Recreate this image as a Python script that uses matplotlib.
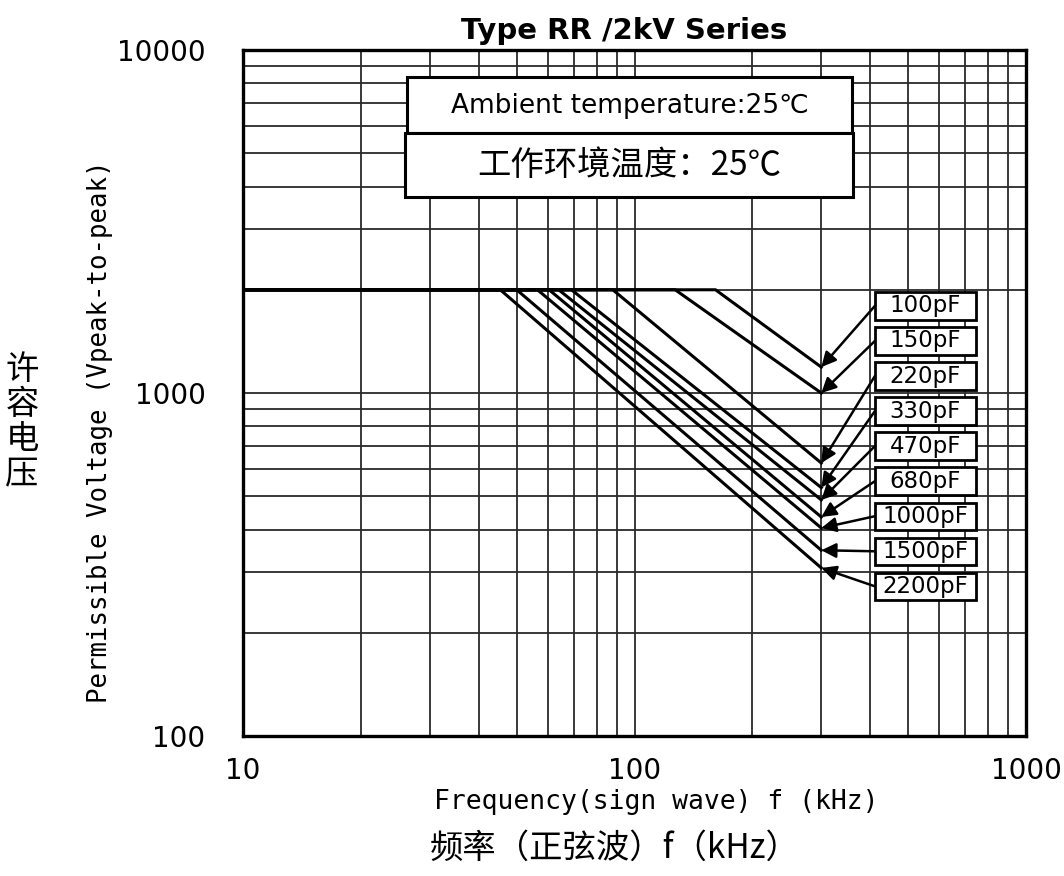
import matplotlib
matplotlib.use("Agg")

import matplotlib.pyplot as plt
from matplotlib import font_manager
from matplotlib.patches import Rectangle
from matplotlib.ticker import NullFormatter


# Data
capacitances = ["100pF", "150pF", "220pF", "330pF", "470pF",
                "680pF", "1000pF", "1500pF", "2200pF"]
v_max = 2000                      # flat limit (Vp-p)
f_start = 10                      # kHz
f_knee = [161, 127, 88, 69, 64, 60.5, 56.5, 50, 45.4]   # kHz where the limit starts to fall
f_end = 300                       # kHz
v_end = [1190, 1000, 625, 530, 488, 435, 404, 348, 309] # Vp-p at 300 kHz

x_ticks = [10, 100, 1000]
y_ticks = [100, 1000, 10000]

# Fonts
installed = {f.name for f in font_manager.fontManager.ttflist}
narrow = "Liberation Sans Narrow" if "Liberation Sans Narrow" in installed else "DejaVu Sans"
cjk = "Noto Sans CJK SC"
mono = "DejaVu Sans Mono"

fig = plt.figure(figsize=(10.64, 8.76), dpi=100)
ax = fig.add_axes([0.2284, 0.1598, 0.7359, 0.7831])

ax.set_xscale("log")
ax.set_yscale("log")
ax.set_xlim(10, 1000)
ax.set_ylim(100, 10000)

ax.grid(True, which="both", color="#2a2a2a", linewidth=1.3, zorder=1)
ax.set_axisbelow(True)

for s in ax.spines.values():
    s.set_linewidth(2.4)
    s.set_color("black")
    s.set_zorder(5)

ax.set_xticks(x_ticks)
ax.set_xticklabels([str(v) for v in x_ticks])
ax.set_yticks(y_ticks)
ax.set_yticklabels([str(v) for v in y_ticks])
ax.xaxis.set_minor_formatter(NullFormatter())
ax.yaxis.set_minor_formatter(NullFormatter())

tick_size = 23 if narrow != "DejaVu Sans" else 20
ax.tick_params(which="both", length=0)
ax.tick_params(axis="x", pad=15, labelsize=tick_size)
ax.tick_params(axis="y", pad=27, labelsize=tick_size)
for lab in ax.get_xticklabels() + ax.get_yticklabels():
    lab.set_family(narrow)

# Curves
for i in range(len(capacitances)):
    ax.plot([f_start, f_knee[i], f_end], [v_max, v_max, v_end[i]],
            color="black", linewidth=2.2, zorder=3, solid_joinstyle="miter")

# Label boxes with arrows
box_x = 0.807
box_w = 0.129
box_h = 0.040
y0 = 0.627
dy = 0.0511
for i, cap in enumerate(capacitances):
    yc = y0 - i * dy
    ax.add_patch(Rectangle((box_x, yc - box_h / 2), box_w, box_h,
                           transform=ax.transAxes, facecolor="white",
                           edgecolor="black", linewidth=2, zorder=6,
                           clip_on=False))
    ax.text(box_x + box_w / 2, yc, cap, transform=ax.transAxes,
            ha="center", va="center", fontsize=16.5, family=narrow, zorder=7)
    ax.annotate("", xy=(f_end, v_end[i]), xycoords="data",
                xytext=(box_x, yc), textcoords="axes fraction",
                arrowprops=dict(arrowstyle="-|>", color="black", lw=1.8,
                                mutation_scale=22, shrinkA=0, shrinkB=0),
                zorder=4)

# Temperature boxes
ax.add_patch(Rectangle((0.2095, 0.879), 0.5685, 0.0816, transform=ax.transAxes,
                       facecolor="white", edgecolor="black", linewidth=2.2,
                       zorder=6))
ax.text(0.4938, 0.919, "Ambient temperature:25\u2103", transform=ax.transAxes,
        ha="center", va="center", fontsize=19, family=["DejaVu Sans", cjk], zorder=7)
ax.add_patch(Rectangle((0.207, 0.7857), 0.5725, 0.0933, transform=ax.transAxes,
                       facecolor="white", edgecolor="black", linewidth=2.2,
                       zorder=6))
ax.text(0.4933, 0.831, "工作环境温度：25℃", transform=ax.transAxes,
        ha="center", va="center", fontsize=24, family=[cjk, "DejaVu Sans"], zorder=7)

# Titles and axis labels
fig.text(0.5865, 0.9646, "Type RR /2kV Series", ha="center", va="center",
         fontsize=21, fontweight="bold", family=narrow)
fig.text(0.6165, 0.0845, "Frequency(sign wave) f (kHz)", ha="center", va="center",
         fontsize=19, family=mono)
fig.text(0.578, 0.032, "频率（正弦波）f（kHz）", ha="center", va="center",
         fontsize=24, family=[cjk, "DejaVu Sans"])
fig.text(0.094, 0.507, "Permissible Voltage (Vpeak-to-peak)", ha="center", va="center",
         rotation=90, fontsize=18.5, family=mono)
fig.text(0.0207, 0.518, "许\n容\n电\n压", ha="center", va="center",
         fontsize=24, family=[cjk, "DejaVu Sans"], linespacing=1.0)

fig.savefig("out.png", dpi=100)
